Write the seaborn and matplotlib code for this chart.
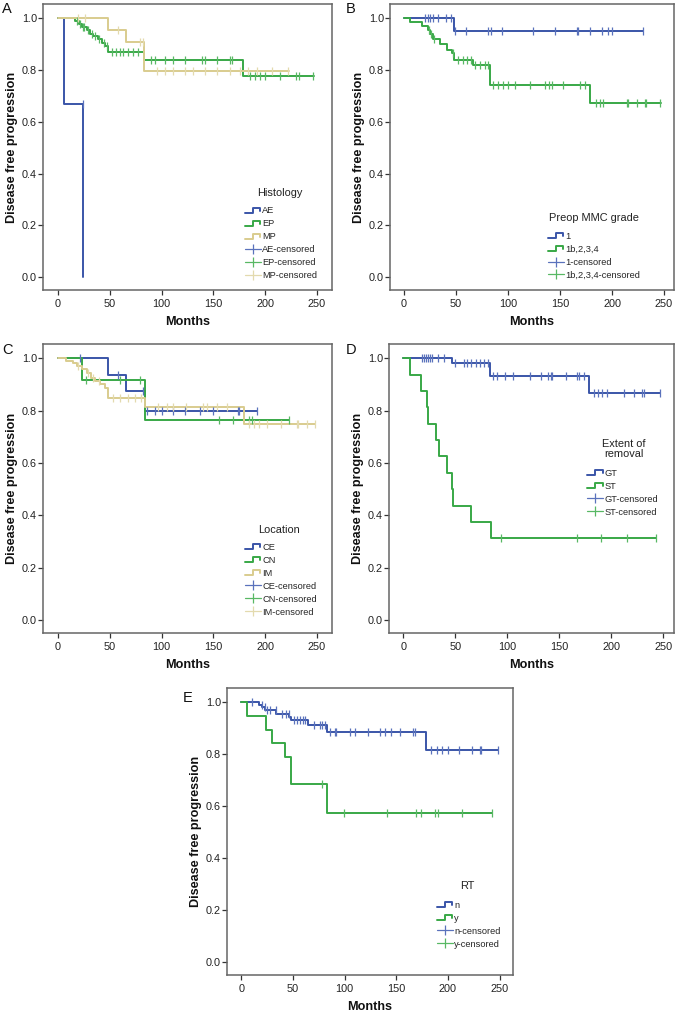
import numpy as np
import pandas as pd
import matplotlib
matplotlib.use("Agg")
import matplotlib.pyplot as plt
import seaborn as sns
from matplotlib.legend_handler import HandlerBase
from matplotlib.lines import Line2D

# ---------------- data ----------------
months_ticks = [0, 50, 100, 150, 200, 250]
surv_ticks = [0.0, 0.2, 0.4, 0.6, 0.8, 1.0]

# Panel A: Histology
ae_t = [6, 24]
ae_s = [0.667, 0.0]
ae_end = 24
ae_cens = [24]

ep_t = [16, 20, 23, 28, 31, 34, 39, 42, 45, 48, 83, 179]
ep_s = [0.988, 0.976, 0.965, 0.953, 0.940, 0.930, 0.918, 0.905, 0.893, 0.870, 0.840, 0.775]
ep_end = 247
ep_cens = [18, 21, 24, 25, 29, 33, 36, 40, 44, 47, 52, 56, 60, 63, 68, 72, 77, 90, 94,
           103, 111, 123, 139, 142, 153, 166, 168, 185, 190, 195, 200, 214, 230, 233, 246]

mp_t = [48, 66, 83]
mp_s = [0.955, 0.909, 0.795]
mp_end = 223
mp_cens = [19, 26, 58, 79, 82, 96, 103, 111, 123, 130, 142, 153, 166, 176, 183, 192, 207, 222]

# Panel B: Preop MMC grade
g1_t = [48]
g1_s = [0.95]
g1_end = 230
g1_cens = [20, 23, 25, 28, 33, 40, 45, 49, 60, 81, 84, 94, 124, 145, 166, 167, 179, 190, 196, 200, 230]

g2_t = [6, 17, 23, 25, 28, 35, 41, 46, 48, 66, 83, 179]
g2_s = [0.986, 0.969, 0.955, 0.938, 0.921, 0.902, 0.879, 0.864, 0.840, 0.818, 0.741, 0.674]
g2_end = 247
g2_cens = [24, 26, 29, 47, 52, 57, 61, 64, 68, 73, 78, 81, 86, 90, 95, 100, 107, 121, 136, 139,
           142, 153, 169, 174, 185, 188, 191, 214, 215, 224, 232, 233, 246]

# Panel C: Location
ce_t = [48, 66, 84]
ce_s = [0.937, 0.875, 0.800]
ce_end = 192
ce_cens = [21, 58, 82, 86, 94, 100, 111, 123, 137, 150, 174, 175, 192]

cn_t = [23, 84]
cn_s = [0.917, 0.764]
cn_end = 223
cn_cens = [27, 60, 79, 155, 169, 184, 187, 223]

im_t = [8, 14, 18, 23, 28, 32, 36, 41, 45, 48, 84, 180]
im_s = [0.990, 0.981, 0.970, 0.961, 0.945, 0.925, 0.912, 0.902, 0.886, 0.848, 0.816, 0.750]
im_end = 248
im_cens = [19, 29, 34, 40, 53, 60, 68, 74, 80, 97, 105, 111, 124, 140, 144, 153, 163, 184, 189,
           194, 202, 215, 231, 232, 240, 248]

# Panel D: Extent of removal
gt_t = [47, 83, 179]
gt_s = [0.982, 0.933, 0.866]
gt_end = 247
gt_cens = [18, 20, 22, 24, 26, 28, 33, 39, 50, 58, 61, 65, 70, 74, 78, 81, 86, 90, 98, 105, 122,
           132, 139, 142, 143, 156, 167, 169, 174, 183, 187, 191, 196, 212, 222, 230, 231, 247]

st_t = [6, 17, 23, 24, 31, 34, 42, 47, 48, 65, 84]
st_s = [0.9375, 0.875, 0.8125, 0.75, 0.6875, 0.625, 0.5625, 0.5, 0.4375, 0.375, 0.3125]
st_end = 243
st_cens = [94, 167, 190, 215, 243]

# Panel E: RT
n_t = [17, 20, 23, 34, 46, 48, 65, 83, 179]
n_s = [0.990, 0.980, 0.970, 0.955, 0.944, 0.932, 0.913, 0.886, 0.816]
n_end = 248
n_cens = [10, 20, 23, 25, 28, 34, 39, 43, 46, 51, 54, 57, 60, 62, 70, 76, 78, 81, 86, 91, 92, 105,
          110, 123, 134, 139, 145, 154, 166, 168, 184, 189, 194, 200, 211, 223, 231, 232, 248]

y_t = [6, 24, 30, 42, 48, 83]
y_s = [0.947, 0.895, 0.842, 0.790, 0.684, 0.572]
y_end = 243
y_cens = [78, 99, 141, 169, 174, 187, 190, 214, 243]

# ---------------- style ----------------
BLUE, BLUE_C = "#3A55A8", "#5A72BC"
GREEN, GREEN_C = "#38A846", "#58B864"
TAN, TAN_C = "#D9CC8E", "#E3DAAE"
SPINE = "#666666"

sns.set_style("ticks")
plt.rcParams["font.family"] = ["Liberation Sans", "DejaVu Sans"]


class StepHandler(HandlerBase):
    def create_artists(self, legend, orig_handle, xdescent, ydescent, width, height, fontsize, trans):
        x0, y0 = -xdescent, -ydescent
        xs = [x0, x0 + 0.5 * width, x0 + 0.5 * width, x0 + 0.95 * width, x0 + 0.95 * width]
        ys = [y0 + 0.1 * height, y0 + 0.1 * height, y0 + 0.85 * height, y0 + 0.85 * height, y0 + 0.4 * height]
        ln = Line2D(xs, ys, color=orig_handle.get_color(), lw=orig_handle.get_linewidth())
        ln.set_transform(trans)
        return [ln]


def km_frame(ev_t, ev_s, end):
    t = [0] + list(ev_t)
    s = [1.0] + list(ev_s)
    if end > ev_t[-1]:
        t.append(end)
        s.append(ev_s[-1])
    return pd.DataFrame({"Months": t, "Surv": s})


def cens_frame(ev_t, ev_s, cens):
    levels = np.concatenate([[1.0], ev_s])
    idx = np.searchsorted(np.asarray(ev_t), np.asarray(cens), side="left")
    return pd.DataFrame({"Months": cens, "Surv": levels[idx]})


def draw_panel(ax, groups, xlim, legend_anchor, title, title_xy):
    step_handles, cens_handles = [], []
    for name, ev_t, ev_s, end, cens, col, ccol in groups:
        sns.lineplot(data=km_frame(ev_t, ev_s, end), x="Months", y="Surv", ax=ax,
                     color=col, lw=1.4, drawstyle="steps-post", estimator=None,
                     sort=False, legend=False)
        sns.scatterplot(data=cens_frame(ev_t, ev_s, cens), x="Months", y="Surv", ax=ax,
                        marker="|", s=26, color=ccol, linewidth=0.9, legend=False, zorder=3)
        step_handles.append(Line2D([], [], color=col, lw=1.4, label=name))
        cens_handles.append(Line2D([], [], color=ccol, lw=0.9, marker="|", markersize=6.5,
                                   markeredgewidth=0.9, label=name + "-censored"))
    ax.set_xlim(*xlim)
    ax.set_ylim(-0.05, 1.055)
    ax.set_xticks(months_ticks)
    ax.set_yticks(surv_ticks)
    ax.set_yticklabels([f"{v:.1f}" for v in surv_ticks])
    ax.set_xlabel("Months", fontsize=9.1, fontweight="bold", labelpad=5, color="#111111")
    ax.set_ylabel("Disease free progression", fontsize=9.1, fontweight="bold", labelpad=3,
                  color="#111111")
    ax.tick_params(axis="both", labelsize=7.8, colors="#333333", labelcolor="#222222",
                   length=3.5, width=0.9)
    ax.tick_params(axis="y", pad=0.8)
    ax.tick_params(axis="x", pad=3)
    for sp in ax.spines.values():
        sp.set_visible(True)
        sp.set_color(SPINE)
        sp.set_linewidth(1.1)
    handles = step_handles + cens_handles
    hmap = {h: StepHandler() for h in step_handles}
    ax.legend(handles=handles, handler_map=hmap, loc="lower left", bbox_to_anchor=legend_anchor,
              frameon=False, fontsize=6.7, borderpad=0, borderaxespad=0, handlelength=1.75,
              handletextpad=0.1, labelspacing=0.42, numpoints=1)
    ax.text(title_xy[0], title_xy[1], title, transform=ax.transAxes, ha="center", va="center",
            fontsize=7.9, color="#222222", linespacing=1.0)


W, H = 683, 1016
fig = plt.figure(figsize=(W / 100, H / 100), dpi=100)


def add_ax(left, top, right, bottom):
    return fig.add_axes([left / W, 1 - bottom / H, (right - left) / W, (bottom - top) / H])


axA = add_ax(43, 4, 332, 290)
axB = add_ax(390, 4, 674, 290)
axC = add_ax(43, 344, 332, 633)
axD = add_ax(389, 344, 674, 633)
axE = add_ax(227, 688, 513, 975)

draw_panel(axA, [("AE", ae_t, ae_s, ae_end, ae_cens, BLUE, BLUE_C),
                 ("EP", ep_t, ep_s, ep_end, ep_cens, GREEN, GREEN_C),
                 ("MP", mp_t, mp_s, mp_end, mp_cens, TAN, TAN_C)],
           (-14.5, 264.5), (0.699, 0.035), "Histology", (0.82, 0.339))
draw_panel(axB, [("1", g1_t, g1_s, g1_end, g1_cens, BLUE, BLUE_C),
                 ("1b,2,3,4", g2_t, g2_s, g2_end, g2_cens, GREEN, GREEN_C)],
           (-13.5, 259.6), (0.556, 0.036), "Preop MMC grade", (0.718, 0.252))
draw_panel(axC, [("CE", ce_t, ce_s, ce_end, ce_cens, BLUE, BLUE_C),
                 ("CN", cn_t, cn_s, cn_end, cn_cens, GREEN, GREEN_C),
                 ("IM", im_t, im_s, im_end, im_cens, TAN, TAN_C)],
           (-14.5, 264.5), (0.699, 0.057), "Location", (0.817, 0.356))
draw_panel(axD, [("GT", gt_t, gt_s, gt_end, gt_cens, BLUE, BLUE_C),
                 ("ST", st_t, st_s, st_end, st_cens, GREEN, GREEN_C)],
           (-13.8, 260.3), (0.695, 0.403), "Extent of\nremoval", (0.825, 0.637))
draw_panel(axE, [("n", n_t, n_s, n_end, n_cens, BLUE, BLUE_C),
                 ("y", y_t, y_s, y_end, y_cens, GREEN, GREEN_C)],
           (-13.8, 262.9), (0.734, 0.092), "RT", (0.839, 0.31))

for letter, x, y in [("A", 2, 2), ("B", 346, 2), ("C", 2, 343), ("D", 346, 343), ("E", 183, 691)]:
    fig.text(x / W, 1 - y / H, letter, ha="left", va="top", fontsize=10.5, color="#111111")

fig.savefig("out.png", dpi=100)
